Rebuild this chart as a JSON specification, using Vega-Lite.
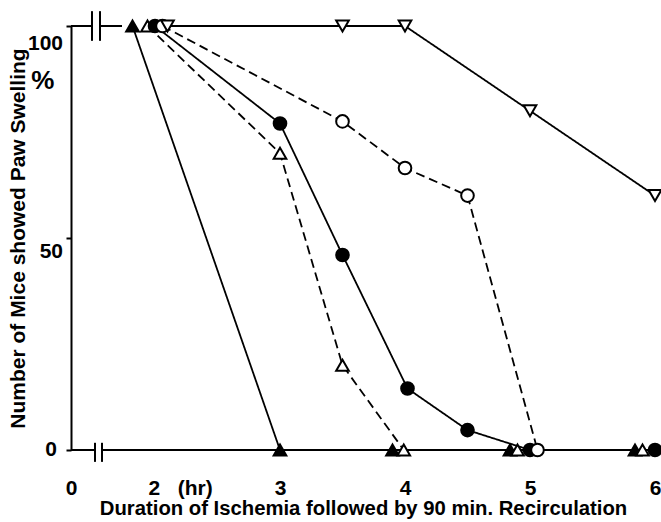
{
  "$schema": "https://vega.github.io/schema/vega-lite/v6.json",
  "width": 590,
  "height": 424,
  "autosize": {"type": "none"},
  "padding": {"left": 71, "top": 26, "right": 0, "bottom": 72},
  "background": "white",
  "config": {"view": {"stroke": null}, "font": "Liberation Sans"},
  "datasets": {
    "pts": [
      {"series": "A", "x": 1.82, "y": 100}, {"series": "A", "x": 3.0, "y": 0}, {"series": "A", "x": 3.9, "y": 0}, {"series": "A", "x": 4.84, "y": 0}, {"series": "A", "x": 5.84, "y": 0},
      {"series": "B", "x": 1.94, "y": 100}, {"series": "B", "x": 3.0, "y": 70}, {"series": "B", "x": 3.5, "y": 20}, {"series": "B", "x": 3.99, "y": 0}, {"series": "B", "x": 4.9, "y": 0}, {"series": "B", "x": 5.9, "y": 0},
      {"series": "C", "x": 2.0, "y": 100}, {"series": "C", "x": 3.0, "y": 77}, {"series": "C", "x": 3.5, "y": 46}, {"series": "C", "x": 4.02, "y": 14.5}, {"series": "C", "x": 4.5, "y": 4.7}, {"series": "C", "x": 5.0, "y": 0}, {"series": "C", "x": 6.0, "y": 0},
      {"series": "D", "x": 2.06, "y": 100}, {"series": "D", "x": 3.5, "y": 77.5}, {"series": "D", "x": 4.0, "y": 66.5}, {"series": "D", "x": 4.5, "y": 60}, {"series": "D", "x": 5.06, "y": 0},
      {"series": "E", "x": 2.1, "y": 100}, {"series": "E", "x": 3.5, "y": 100}, {"series": "E", "x": 4.0, "y": 100}, {"series": "E", "x": 5.0, "y": 80}, {"series": "E", "x": 6.0, "y": 60}
    ],
    "frame": [
      {"x": 0, "x2": 0.64, "y": 100, "y2": 100},
      {"x": 0.885, "x2": 1.556, "y": 100, "y2": 100},
      {"x": 0.64, "x2": 0.64, "y": 96.5, "y2": 103.5},
      {"x": 0.885, "x2": 0.885, "y": 96.5, "y2": 103.5},
      {"x": 0, "x2": 0.732, "y": 0, "y2": 0},
      {"x": 0.946, "x2": 6.15, "y": 0, "y2": 0},
      {"x": 0.732, "x2": 0.732, "y": 1.7, "y2": -2.8},
      {"x": 0.946, "x2": 0.946, "y": 1.7, "y2": -2.8}
    ],
    "ylab": [
      {"x": 0, "y": 100, "t": "100"},
      {"x": 0, "y": 50, "t": "50"},
      {"x": 0, "y": 0, "t": "0"}
    ]
  },
  "encoding": {
    "x": {
      "field": "x", "type": "quantitative",
      "scale": {"domain": [0, 1.8, 6], "range": [0, 59, 584], "nice": false, "zero": false},
      "axis": {
        "values": [0, 2, 3, 4, 5, 6],
        "domain": false,
        "ticks": false,
        "grid": false,
        "labelExpr": "datum.value == 2 ? '2\u00a0\u00a0\u00a0(hr)' : datum.label",
        "labelAlign": {"condition": {"test": "datum.value == 2", "value": "left"}, "value": "center"},
        "labelOffset": {"condition": {"test": "datum.value == 2", "value": -7}, "value": 0},
        "labelFont": "Liberation Sans", "labelFontSize": 21, "labelFontWeight": "bold", "labelColor": "black",
        "labelPadding": 38, "labelBaseline": "middle", "labelFlush": false, "labelOverlap": false,
        "title": "Duration of Ischemia followed by 90 min. Recirculation",
        "titleFont": "Liberation Sans", "titleFontSize": 20.3, "titleFontWeight": "bold", "titleColor": "black",
        "titlePadding": 0
      }
    },
    "y": {
      "field": "y", "type": "quantitative",
      "scale": {"domain": [0, 100], "nice": false, "zero": false},
      "axis": {
        "values": [0, 50, 100],
        "grid": false,
        "domainColor": "black", "domainWidth": 2,
        "tickColor": "black", "tickSize": 5, "tickWidth": 2,
        "labels": false,
        "title": "Number of Mice showed Paw Swelling",
        "titleFont": "Liberation Sans", "titleFontSize": 21, "titleFontWeight": "bold", "titleColor": "black",
        "titlePadding": 37
      }
    }
  },
  "layer": [
    {
      "data": {"name": "frame"},
      "mark": {"type": "rule", "color": "black", "strokeWidth": 2},
      "encoding": {"x2": {"field": "x2"}, "y2": {"field": "y2"}}
    },
    {
      "data": {"name": "pts"},
      "mark": {"type": "line", "color": "black", "strokeWidth": 1.8},
      "encoding": {
        "detail": {"field": "series"},
        "strokeDash": {"field": "series", "type": "nominal", "scale": {"domain": ["A", "B", "C", "D", "E"], "range": [[1, 0], [9, 5], [1, 0], [9, 5], [1, 0]]}, "legend": null}
      }
    },
    {
      "data": {"name": "pts"},
      "mark": {"type": "point", "filled": true, "stroke": "black", "strokeWidth": 2, "size": 160, "opacity": 1},
      "encoding": {
        "shape": {"field": "series", "type": "nominal", "scale": {"domain": ["A", "B", "C", "D", "E"], "range": ["triangle-up", "triangle-up", "circle", "circle", "triangle-down"]}, "legend": null},
        "fill": {"field": "series", "type": "nominal", "scale": {"domain": ["A", "B", "C", "D", "E"], "range": ["black", "white", "black", "white", "white"]}, "legend": null}
      }
    },
    {
      "data": {"name": "ylab"},
      "transform": [{"filter": "datum.t == '100'"}],
      "mark": {"type": "text", "font": "Liberation Sans", "fontSize": 21, "fontWeight": "bold", "color": "black", "align": "right", "baseline": "middle", "dx": -8, "dy": 18},
      "encoding": {"text": {"field": "t"}}
    },
    {
      "data": {"name": "ylab"},
      "transform": [{"filter": "datum.t == '50'"}],
      "mark": {"type": "text", "font": "Liberation Sans", "fontSize": 21, "fontWeight": "bold", "color": "black", "align": "right", "baseline": "middle", "dx": -8, "dy": 14},
      "encoding": {"text": {"field": "t"}}
    },
    {
      "data": {"name": "ylab"},
      "transform": [{"filter": "datum.t == '0'"}],
      "mark": {"type": "text", "font": "Liberation Sans", "fontSize": 21, "fontWeight": "bold", "color": "black", "align": "right", "baseline": "middle", "dx": -14, "dy": 0},
      "encoding": {"text": {"field": "t"}}
    },
    {
      "data": {"values": [{"x": -0.86, "y": 87, "t": "%"}]},
      "mark": {"type": "text", "font": "Liberation Sans", "fontSize": 26, "fontWeight": "bold", "color": "black"},
      "encoding": {"text": {"field": "t"}}
    }
  ]
}
